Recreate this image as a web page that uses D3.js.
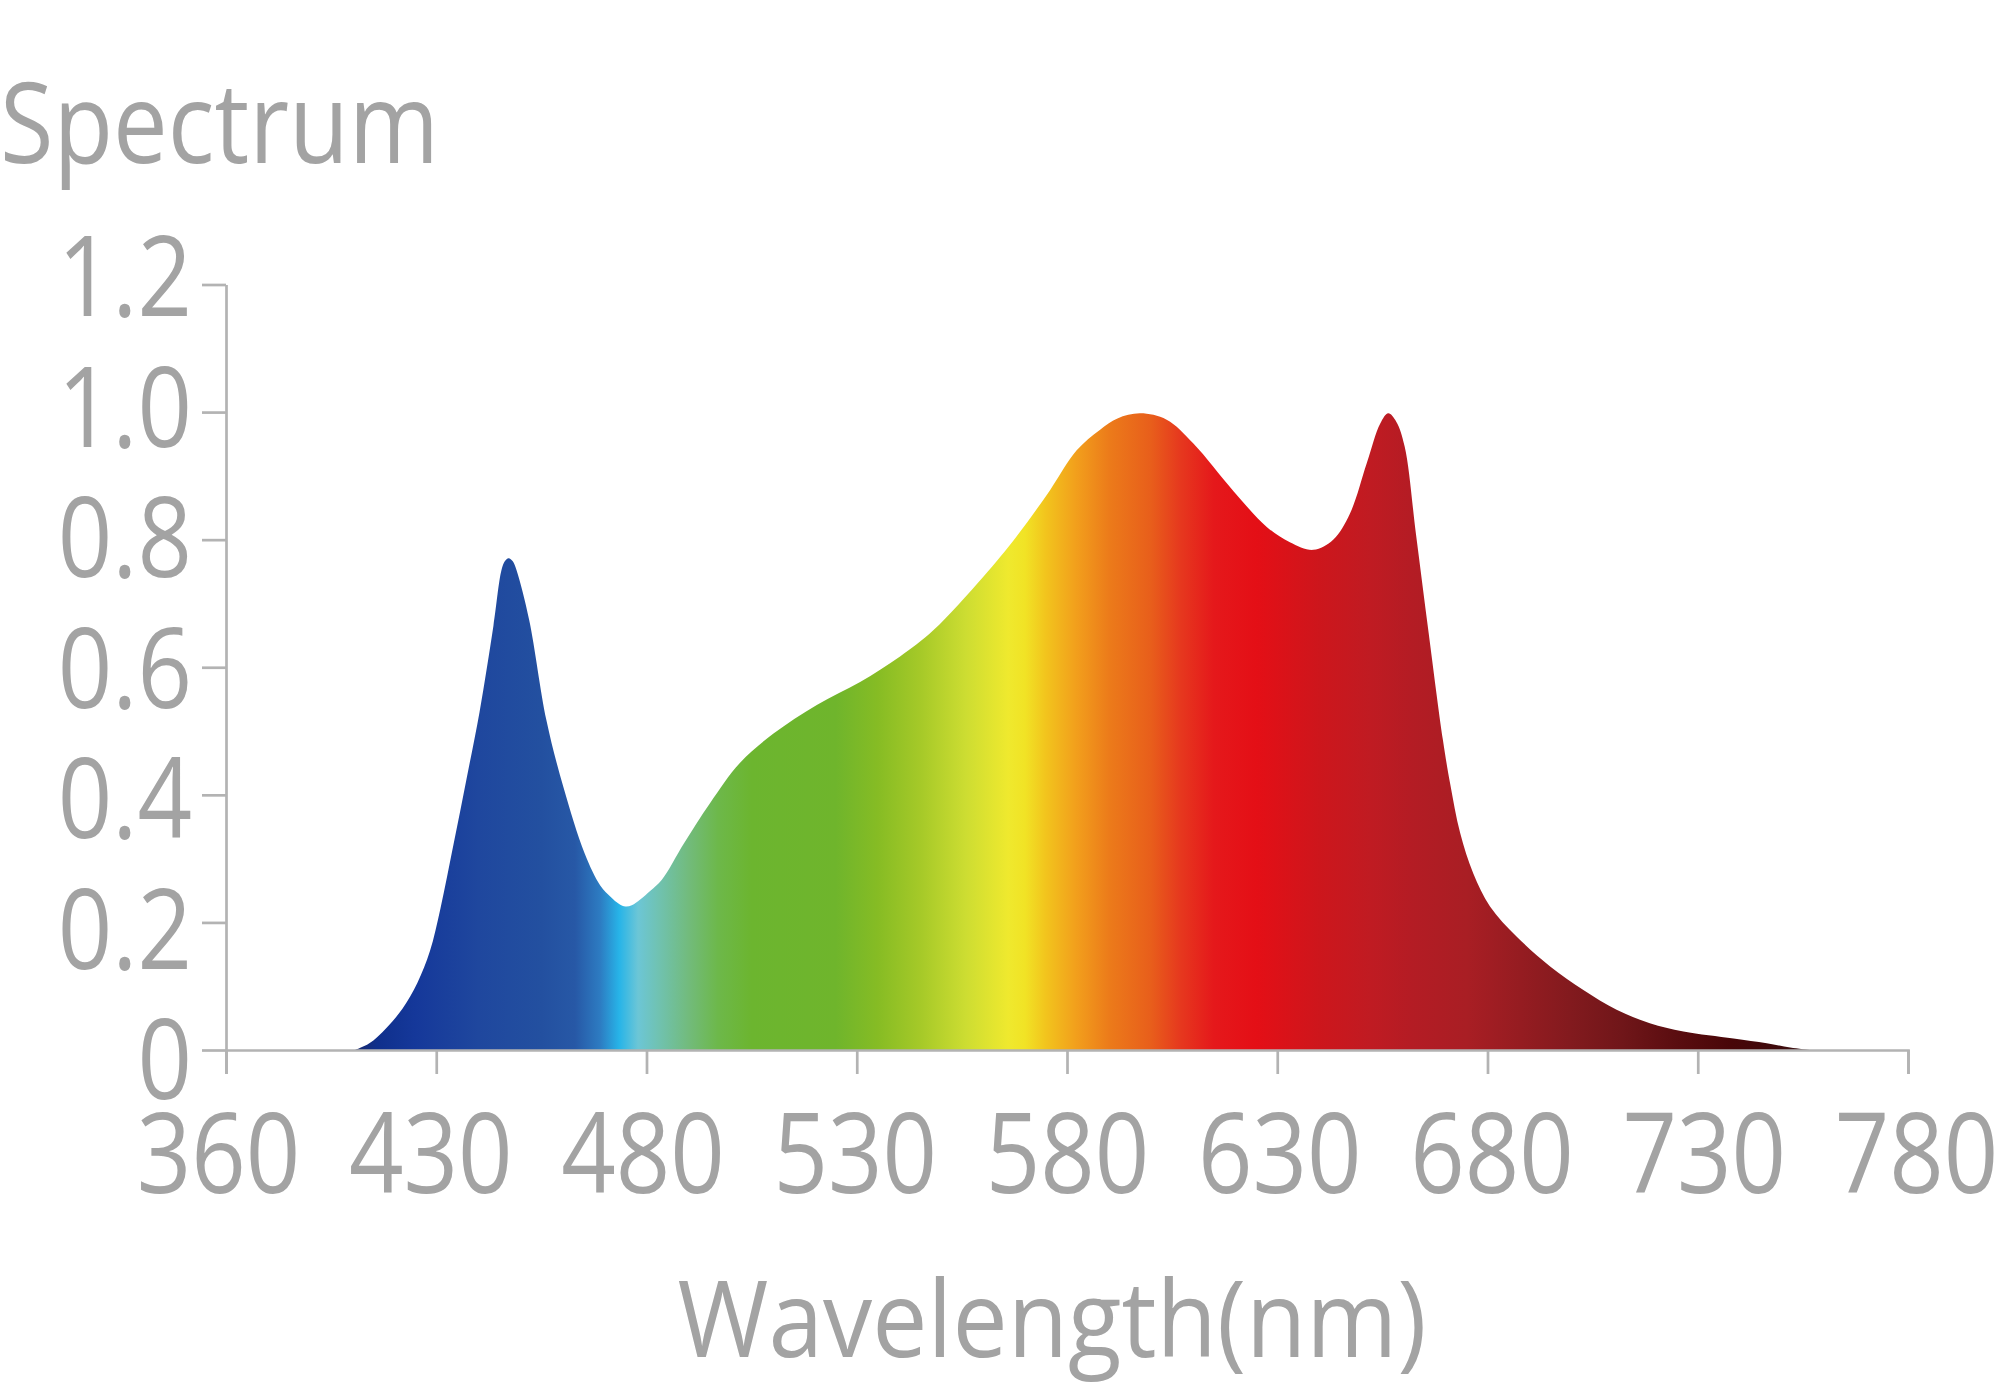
<!DOCTYPE html>
<html>
<head>
<meta charset="utf-8">
<script src="https://cdn.jsdelivr.net/npm/d3@7"></script>
<style>
  html, body { margin: 0; padding: 0; background: #fff; }
  svg text { font-family: "Open Sans", "Noto Sans", sans-serif; fill: #a3a3a3; }
</style>
</head>
<body>
<svg id="chart" width="2000" height="1387"></svg>
<script>
// spectrum curve (nm, relative intensity)
var wavelength = [410.7, 414, 418.2, 422, 425.5, 428.5, 431, 434.1, 437.2, 440.3, 443.6, 445.5, 446.3, 447.2,
    448.2, 449.1, 452.1, 456.2, 460.2, 465.3, 469, 471.5, 473.5, 475, 476.5, 478.5, 481, 483.6, 489, 495.1,
    502.2, 510.2, 520.5, 530.8, 540.3, 548.2, 560.1, 568, 576, 582.3, 587.8, 592, 597.4, 603.7, 610, 619.6,
    627.5, 633, 638.6, 643.3, 647.3, 651.3, 654.5, 656.4, 658.3, 660.3, 663, 666, 669.4, 671.1, 673.5, 676.6,
    680.6, 686.9, 694.9, 702.8, 710.7, 718.6, 726.6, 738.5, 746.4, 752, 756.7];
var intensity = [0, 0.01, 0.035, 0.065, 0.105, 0.155, 0.222, 0.322, 0.425, 0.53, 0.665, 0.752, 0.766, 0.771,
    0.766, 0.752, 0.674, 0.517, 0.413, 0.308, 0.258, 0.24, 0.229, 0.225, 0.227, 0.236, 0.25, 0.2665, 0.325, 0.387,
    0.45, 0.496, 0.541, 0.577, 0.617, 0.658, 0.742, 0.805, 0.878, 0.94, 0.972, 0.99, 0.998, 0.988, 0.951, 0.876,
    0.82, 0.796, 0.784, 0.8, 0.841, 0.92, 0.982, 0.998, 0.985, 0.946, 0.808, 0.654, 0.486, 0.418, 0.34, 0.277,
    0.225, 0.178, 0.131, 0.094, 0.063, 0.042, 0.029, 0.018, 0.0105, 0.004, 0];

// colour of the fill along the wavelength axis
var stopNm = [410, 416, 425, 440, 455, 463, 469, 473.5, 478, 483, 490, 497, 505, 525, 535, 545, 556, 566,
    570, 575, 582, 590, 600, 607, 615, 625, 640, 652, 662, 675, 688, 700, 712, 725, 738, 750, 757];
var stopColor = ['#1b2a6b', '#0f2f8c', '#15389a', '#1f479e', '#2350a0', '#2758a6', '#2d7cc2', '#27b4e8',
    '#6cc6d6', '#70c2b0', '#72bb7c', '#6db84a', '#6cb52f', '#6fb52c', '#86bc24', '#a5c928', '#cddd32',
    '#efe92e', '#f1e325', '#f2c41d', '#f2a01c', '#ec7b1a', '#e85e1b', '#e6381e', '#e5181b', '#e40f16',
    '#cd161c', '#c01b22', '#b41c24', '#a91e24', '#951c21', '#821a1e', '#701619', '#5a0d10', '#480608',
    '#3d0a0c', '#402222'];

var xTicks = [380, 430, 480, 530, 580, 630, 680, 730, 780];
var xTickLabels = ['360', '430', '480', '530', '580', '630', '680', '730', '780'];
var yTicks = [0, 0.2, 0.4, 0.6, 0.8, 1.0, 1.2];
var yTickLabels = ['0', '0.2', '0.4', '0.6', '0.8', '1.0', '1.2'];

var AXIS_COLOR = '#b3b3b3',
    SQUEEZE = 0.86; // the source font is narrower than what we have

var svg = d3.select('#chart');

var x = d3.scaleLinear().domain([380, 780]).range([226, 1908]);
var y = d3.scaleLinear().domain([0, 1.2]).range([1050, 284.5]);

var points = wavelength.map(function(w, i) { return {w: w, v: intensity[i]}; });

// horizontal rainbow gradient
var grad = svg.append('defs').append('linearGradient')
    .attr('id', 'spec')
    .attr('gradientUnits', 'userSpaceOnUse')
    .attr('x1', x(380)).attr('x2', x(780))
    .attr('y1', 0).attr('y2', 0);
grad.selectAll('stop')
    .data(stopNm)
  .enter().append('stop')
    .attr('offset', function(d) { return (d - 380) / 400; })
    .attr('stop-color', function(d, i) { return stopColor[i]; });

var area = d3.area()
    .x(function(d) { return x(d.w); })
    .y0(y(0))
    .y1(function(d) { return Math.min(y(0), y(d.v)); })
    .curve(d3.curveCatmullRom.alpha(0.5));

svg.append('path')
    .datum(points)
    .attr('d', area)
    .attr('fill', 'url(#spec)');

// axes
var gx = svg.append('g')
    .attr('transform', 'translate(0,' + y(0) + ')')
    .call(d3.axisBottom(x)
        .tickValues(xTicks)
        .tickFormat(function(d, i) { return xTickLabels[i]; })
        .tickSize(24)
        .tickSizeOuter(24));

var gy = svg.append('g')
    .attr('transform', 'translate(' + x(380) + ',0)')
    .call(d3.axisLeft(y)
        .tickValues(yTicks)
        .tickFormat(function(d, i) { return yTickLabels[i]; })
        .tickSize(24)
        .tickSizeOuter(0));

[gx, gy].forEach(function(g) {
    g.selectAll('path.domain, line')
        .attr('stroke', AXIS_COLOR)
        .attr('stroke-width', 2.7);
    g.selectAll('text')
        .attr('fill', '#a3a3a3')
        .style('font-family', '"Open Sans", "Noto Sans", sans-serif')
        .style('font-size', '111px');
});

// labels sit a bit off their ticks in the source, spreading outwards
gx.selectAll('text')
    .attr('x', 0)
    .attr('y', 0)
    .attr('dy', 0)
    .attr('transform', function(d) {
        return 'translate(' + ((d - 580) * 0.04) + ',143) scale(' + SQUEEZE + ',1)';
    });

gy.selectAll('text')
    .attr('x', 0)
    .attr('dy', '0.36em')
    .attr('transform', function(d) {
        return 'translate(-34,' + ((0.6 - d) * 15) + ') scale(' + SQUEEZE + ',1)';
    });

// titles
svg.append('text')
    .attr('transform', 'translate(0,163) scale(0.87,1)')
    .style('font-size', '112px')
    .text('Spectrum');

svg.append('text')
    .attr('transform', 'translate(1052,1357) scale(0.92,1)')
    .attr('text-anchor', 'middle')
    .style('font-size', '107px')
    .text('Wavelength(nm)');
</script>
</body>
</html>
